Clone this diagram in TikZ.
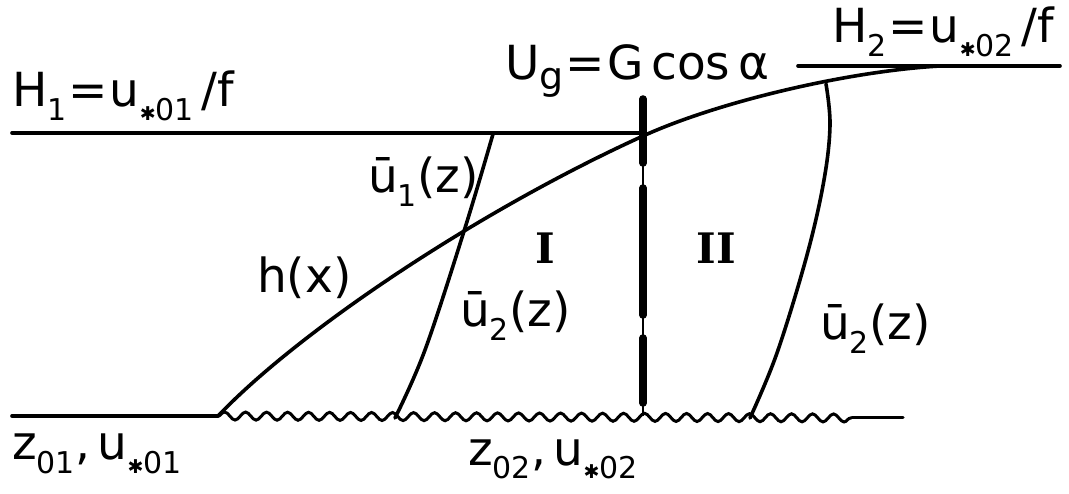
\documentclass[tikz,border=0pt]{standalone}
\usepackage{fontspec}
\setmainfont{DejaVu Sans}
\newfontfamily\romfont{DejaVu Serif}
\usetikzlibrary{decorations.pathmorphing}
\newcommand{\sbs}[1]{\raisebox{-0.28em}{\fontsize{30}{30}\selectfont #1}}
\newcommand{\stc}{{\fontsize{19}{19}\selectfont ✱}}
\newcommand{\eqs}{\hspace{2pt}=\hspace{2pt}}
\tikzset{
  lbl/.style={inner sep=0pt, font=\fontsize{47}{50}\selectfont},
  rom/.style={inner sep=0pt, font=\romfont\bfseries\fontsize{42}{44}\selectfont},
  ln/.style={line width=3.6pt, line cap=round, line join=round},
  thickdash/.style={line width=7.5pt, line cap=round},
  wave/.style={line width=3pt, decorate, decoration={snake, segment length=21pt, amplitude=4pt}}
}
\begin{document}
\begin{tikzpicture}[x=1pt,y=-1pt]
\useasboundingbox (0,0) rectangle (1069,494);
% coordinates
\coordinate (L0) at (12,133);
\coordinate (L1) at (645,133);
\coordinate (R0) at (798,66);
\coordinate (R1) at (1060,66);
\coordinate (G0) at (12,416);
\coordinate (G1) at (218,416);
\coordinate (G2) at (852,418);
\coordinate (G3) at (903,418);
\coordinate (V0) at (643,97);
\coordinate (V1) at (643,416);
\coordinate (J) at (643,136);
\coordinate (HE) at (940,66);
% lines
\draw[ln] (L0) -- (L1);
\draw[ln] (R0) -- (R1);
\draw[ln] (G0) -- (G1);
\draw[wave] (G1) -- (G2);
\draw[ln, line width=3pt] (G2) -- (G3);
% h(x)
\draw[ln] (G1) .. controls (300,330) and (480,210) .. (J)
               .. controls (720,101) and (850,71) .. (HE);
% u1 / u2 left
\draw[ln] plot[smooth, tension=0.6] coordinates {(493,134) (465,228) (425,350) (395,418)};
% u2 right
\draw[ln] plot[smooth, tension=0.6] coordinates {(826,84) (830,125) (824,180) (807,255) (777,353) (750,418)};
% vertical boundary
\draw[line width=2.6pt] (V0) -- (V1);
\draw[thickdash] (643,99) -- (643,163);
\draw[thickdash] (643,188) -- (643,315);
\draw[thickdash] (643,338) -- (643,403);
% labels
\node[lbl, anchor=base west] (h1) at (12,107) {H\sbs{1}\eqs u\sbs{\stc 01}\,/f};
\node[lbl, anchor=base west] (ug) at (505,80) {U\raisebox{-0.2em}{\fontsize{38}{38}\selectfont g}\eqs G\,cos\,α};
\node[lbl, anchor=base west] (h2) at (832,43) {H\sbs{2}\eqs u\sbs{\stc 02}\,/f};
\node[lbl, anchor=base west] (u1) at (368,193) {ū\sbs{1}(z)};
\node[lbl, anchor=base west] (hx) at (257,293) {h(x)};
\node[lbl, anchor=base west] (u2a) at (460,327) {ū\sbs{2}(z)};
\node[lbl, anchor=base west] (u2b) at (820,340) {ū\sbs{2}(z)};
\node[rom, anchor=base] (r1) at (545,264) {I};
\node[rom, anchor=base] (r2) at (716,264) {II};
\node[lbl, anchor=base west] (z1) at (12,460) {z\sbs{01},\,u\sbs{\stc 01}};
\node[lbl, anchor=base west] (z2) at (468,465) {z\sbs{02},\,u\sbs{\stc 02}};
\end{tikzpicture}
\end{document}
